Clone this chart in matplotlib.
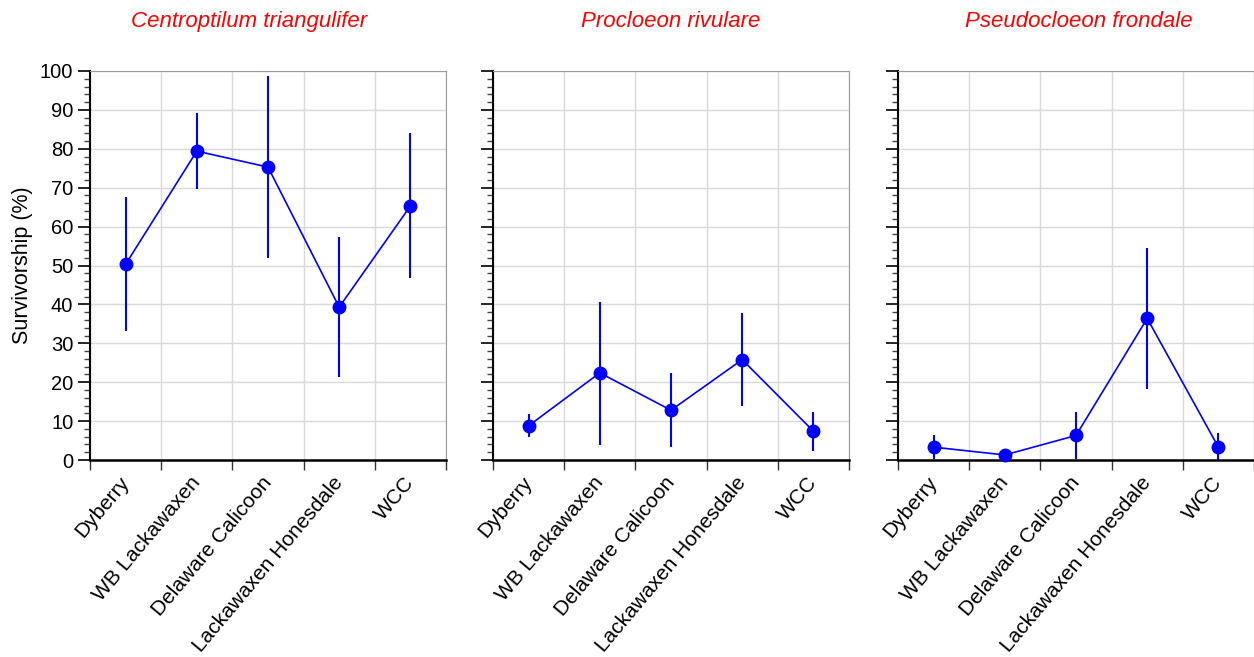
import matplotlib.pyplot as plt
import numpy as np

plt.rcParams['font.family'] = ['Liberation Sans', 'DejaVu Sans']

sites = ["Dyberry", "WB Lackawaxen", "Delaware Calicoon", "Lackawaxen Honesdale", "WCC"]
species = ["Centroptilum triangulifer", "Procloeon rivulare", "Pseudocloeon frondale"]

# mean survivorship (%) and error-bar ends per species
mean_ct = [50.3, 79.4, 75.3, 39.3, 65.3]
low_ct = [33.2, 69.6, 52.0, 21.4, 46.7]
high_ct = [67.6, 89.1, 98.8, 57.3, 84.0]

mean_pr = [8.8, 22.4, 12.8, 25.8, 7.4]
low_pr = [6.0, 3.9, 3.3, 14.0, 2.4]
high_pr = [11.7, 40.7, 22.3, 37.7, 12.3]

mean_pf = [3.3, 1.3, 6.3, 36.4, 3.3]
low_pf = [0.3, 0.0, 0.3, 18.3, 0.0]
high_pf = [6.4, 2.9, 12.3, 54.4, 7.0]

means = [mean_ct, mean_pr, mean_pf]
lows = [low_ct, low_pr, low_pf]
highs = [high_ct, high_pr, high_pf]

fig = plt.figure(figsize=(12.54, 6.57), dpi=100)
lefts = [90 / 1254, 493 / 1254, 898 / 1254]
title_x = [0.448, 0.5, 0.508]
w = 356 / 1254
b = 197 / 657
h = 389 / 657

x = np.arange(len(sites)) + 0.5
for i in range(3):
    ax = fig.add_axes([lefts[i], b, w, h])
    m = np.array(means[i])
    lo = m - np.array(lows[i])
    hi = np.array(highs[i]) - m
    ax.errorbar(x, m, yerr=[lo, hi], color='#0000ff', marker='o', ms=9,
                lw=1.2, elinewidth=1.5, capsize=0, zorder=3, clip_on=False)
    ax.set_xlim(0, 5)
    ax.set_ylim(0, 100)
    ax.set_xticks(range(6))
    ax.set_xticklabels([])
    ax.set_xticks(x, minor=True)
    ax.set_xticklabels(sites, minor=True, rotation=50, ha='right', va='center',
                       rotation_mode='anchor', fontsize=15)
    ax.tick_params(axis='x', which='minor', length=0, pad=14)
    ax.tick_params(axis='x', which='major', length=7, width=1, color='#333333')
    ax.set_yticks(range(0, 101, 10))
    ax.set_yticks(range(0, 101, 2), minor=True)
    ax.tick_params(axis='y', which='major', length=8.5, width=1.2, labelsize=14.5)
    ax.tick_params(axis='y', which='minor', length=4.5, width=1, color='#444444')
    if i > 0:
        ax.set_yticklabels([])
    else:
        ax.set_ylabel("Survivorship (%)", fontsize=15.5, labelpad=5)
    ax.grid(True, which='major', color='#d9d9d9', lw=1)
    ax.set_axisbelow(True)
    ax.spines['top'].set_color('#999999')
    ax.spines['right'].set_color('#999999')
    ax.spines['left'].set_linewidth(1.5)
    ax.spines['bottom'].set_linewidth(1.8)
    ax.set_title(species[i], color='red', style='italic', fontsize=16,
                 pad=32, x=title_x[i])

plt.savefig("out.png", dpi=100)
